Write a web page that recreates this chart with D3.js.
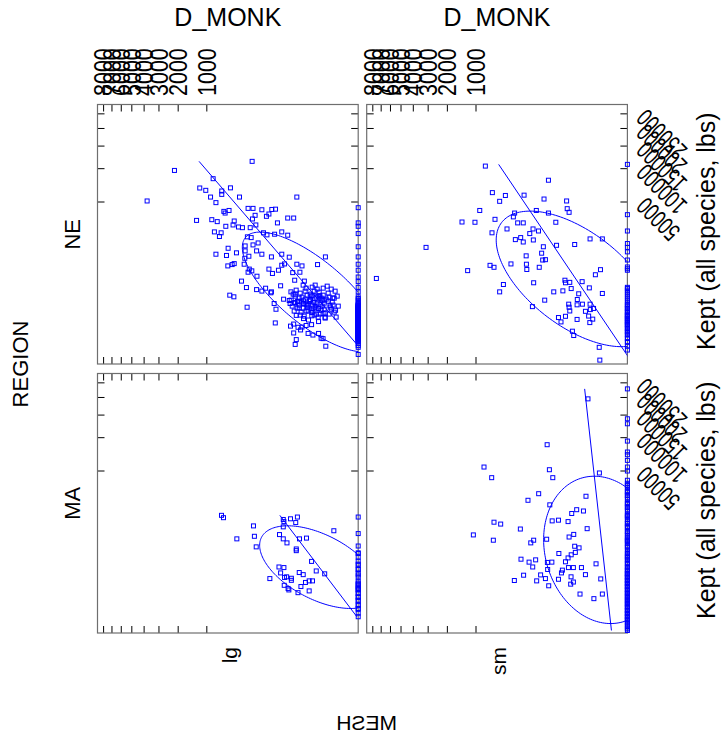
<!DOCTYPE html>
<html>
<head>
<meta charset="utf-8">
<script src="https://cdn.jsdelivr.net/npm/d3@7"></script>
<style>
  body { margin: 0; background: #fff; }
  svg text { font-family: "Liberation Sans", Arial, Helvetica, sans-serif; fill: #000; }
</style>
</head>
<body>
<svg id="chart" width="722" height="744"></svg>
<script>
// Conditioning levels
const regions = ["NE", "MA"];
const meshes = ["lg", "sm"];

// Axis ticks
const monkTicks = [1000, 2000, 3000, 4000, 5000, 6000, 7000, 8000];
const keptTicks = [50000, 100000, 150000, 200000, 250000];

// NE / lg : trips landing monkfish (D_MONK) and total kept
const neLgMonk = [3780,2170,241,843,1200,1028,660,660,507,905,780,378,27,1300,875,752,620,530,597,450,585,467,391,342,814,672,706,280,233,164,106,89,215,135,121,47,33,238,209,259,81,153,132,93,65,47,287,250,311,233,191,780,545,573,418,311,272,315,203,164,108,65,43,2.2,550,481,450,322,268,244,280,200,121,103,77,65,56,27,19,5.2,35,22,31,16,353,297,203,164,140,108,69,39,30,518,455,290,111,95,87,59,43,41,31,26,23,17,10,8,6.7,4.1,2.6,1.2,0.8,0.5,14,8.8,5.9,4.7,2.9,2.3,28,17,11.6,8.8,4.7,90,40,33,25,19,14,9,33,28,30,21,12,8,4.7,3.6,2.9,2.1,17,13,
  0.45,1.01,2.26,3.98,7.15,12.9,20.2,30.1,0.63,1.55,3.2,5.39,9.3,15.1,23.1,34.1,0.3,0.87,1.76,3.57,6.52,11.0,17.5,26.4,38.5,0.54,1.35,2.86,4.89,8.54,14.0,21.6,32,0.75,2.0,4.42,7.8,11.9,18.8,28.2,
  0.37,1.17,2.55,5.94,10.1,16.2,24.7,36.2,1.01,2.26,4.42,7.15,11.9,20.2,30.1,0.63,1.55,3.2,5.94,9.3,15.1,23.1,3.98,7.8,12.9,2.86,5.39,10.1,17.5,1.35,6.52,3.57,14.0,8.54,4.89,2.55,21.6];
const neLgKept = [51200,96700,114600,82300,68000,64700,63800,59300,68200,55900,49300,55900,55900,32000,32600,31000,40100,41000,38500,31500,27400,28400,26900,26400,23500,22900,20600,43100,43100,41700,42000,42300,36400,35500,37600,34000,34000,33200,28400,26400,30000,22900,21600,22000,23500,21400,20400,19950,15500,16000,17000,11840,14400,11350,12400,13220,11050,10300,13220,11840,10800,11840,10700,10800,7800,8200,8500,8310,6900,6440,6100,5170,6900,5800,6600,8000,8400,8310,7800,8200,6000,6100,4350,4180,4180,3100,2800,2600,3000,2500,3370,2500,2220,2100,1920,1030,2380,1300,900,1680,1560,1300,1380,1460,990,1530,1650,2100,1380,2040,1590,1140,1800,840,800,720,630,950,670,500,580,450,400,560,350,310,230,280,205,210,245,265,110,45,20,155,104,85,104,55,52,14,1300,1180,
  508,910,687,1250,593,1037,738,1330,1785,2340,1593,2870,1995,2590,1785,2220,1106,1416,3315,850,1037,1500,3480,971,1593,2590,640,2100,508,3160,1250,2340,793,1180,1690,2464,1416,793,1890,2727,
  1995,1037,1330,910,2220,549,1500,1106,2870,469,1785,2590,1180,1416,1995,738,1500,1106,1890,850,1690,1180,640,971,2100,3010,1330,1593,971,1890,3480,1785,3010,1180,1995,910,593];
// NE / lg : trips with no monkfish (D_MONK = 0)
const neLgZeroKept = [43800,30000,27400,22400,15100,10800,8310,6600,5000,4080,3130,2500,1920,1750,1600,1450,1300,1180,1070,950,840,760,670,600,520,460,400,350,295,250,210,180,155,130,104,85,67,55,40,32,24,16,11,1.4,
  42,49,57,65,75,85,96,109,122,137,153,171,189,209,231,254,280,306,335,365,397,432,469,508,549,593,640,687,738,793,850,910,971,1037,1106,1180,
  44,51,59,67,77,88,99,112,125,140,157,175,193,213,236,259,285,312,341,371,404,440,477,516,558,602,650,697,749,804,862,922,984,1050,1120,1195,
  280,306,335,365,397,432,469,508];

// NE / sm
const neSmMonk = [775,74,633,422,507,217,92,26,25,22,905,1425,1028,585,308,322,131,74,276,224,50,640,400,151,119,173,300,247,224,149,48,14.7,3.7,0.75,95,103,86,98,200,3130,678,603,350,198,195,115,1240,7560,450,507,147,56,33,29,28,21,19,8,4,2,1,0.75,10.7,12,89,155,22.6,22,21,12.2,7.8,3.7,5.9,3.6,2.5,43,37,28,12.2,4.3,3.8,2.75,17.4,15.8,1.2,1.1];
const neSmKept = [105000,79800,61600,57900,50800,58300,53500,51200,42800,39200,41000,30700,30500,32900,38500,35000,41000,38500,30000,30000,30500,22900,25500,25500,24100,22400,18800,19950,17500,18600,15800,16200,19200,19200,15100,12250,9800,9680,11200,14800,7970,7400,8400,8310,6800,7400,6500,4700,3580,2500,3880,2500,2630,4350,3880,3950,2950,4080,3050,5500,6750,2300,2260,1650,1590,1070,1250,1030,800,1200,1250,1250,780,880,950,490,340,540,420,550,320,430,135,80,11,0.05];
const neSmZeroKept = [108400,37000,24100,16700,14800,12800,9680,7500,7000,6600,3130,2950,1180,950,750,590,460,340,255,180,125,85,55,31,
  5.7,14.5,30.5,56.6,96,122,153,189,231,280,335,397,469,549,640,738,850,971,1106,1250,1416,1593,1785,1995,2220,2464,2727,397,280,549];

// MA / lg
const maLgMonk = [665,627,413,229,221,206,60,58,40,26,29,60,73,60,49,22.6,13.6,28,28,0.67,9,75,58,69,56,50,38,38,23,17.4,5.9,2.4,116,57,46,44,20.5,14.7,11,8.3,11,25];
const maLgKept = [15300,14200,6700,10800,7400,4820,13400,12500,13700,14500,12100,10450,7900,6700,5700,6700,6900,4400,4080,9100,2430,1800,1740,1270,950,990,900,780,1300,1140,1430,1200,880,540,420,370,490,670,750,750,340,290];
const maLgZeroKept = [14500,8200,5000,3700,3580,2100,1560,1120,590,420,370,270,190,135,75,45,10,
  21,42,75,122,189,280,397,469,549,640,738,971,1250,1593,1995,2464,3010];

// MA / sm
const maSmMonk = [4.6,1.17,79,805,646,70.5,59,118,186,69,5.6,18.3,12.6,7.1,61,43,23.6,603,491,1072,615,250,147,166,81,22,15.8,5,14.7,10.4,14,19,23.6,42,28,244,135,178,153,78,62,77,34,36,16.2,23,8.5,1.84,5.9,221,311,129,108,86,43,19.2,16.2,19.7,73,0.96,9.6,2.4,0.75];
const maSmKept = [195700,47800,87300,54700,42800,51500,42800,28600,23900,21000,26700,16200,18200,17500,12800,13100,12500,12250,11500,7800,6350,9680,6350,5700,6600,7200,7950,9800,4950,4620,3770,3370,2900,3580,2380,2720,2630,2340,1800,2300,2340,1560,1500,1270,1740,1740,1740,2140,1140,1100,770,750,1120,880,840,990,690,590,520,860,255,160,255];
const maSmZeroKept = [228400,140800,129000,93700,75400,71300,63300,54700,50000,40200,35600,30000,27400,21800,19800,15300,14500,11700,10450,8800,7200,6350,6000,4820,3580,3050,2600,2170,1800,1500,1230,990,780,620,490,370,270,190,135,92,60,34,20,10,4.6,
  0.01,0.055,0.13,0.44,0.72,1.6,2.3,4.3,5.7,9.4,11.7,17.7,21,30.5,36,49,56.6,75,85,109,122,153,171,209,231,280,306,365,397,469,508,593,640,738,793,910,971,1106,1180,1250,
  1416,1593,1785,2100,2340,2727,3010,3315,3810,4170,4760,5180,5630,6360,6880,7720,8310,8950,9970,10690,11840,12650,13510,14880,15850,17380,18450,19580,21350,22610,24590,25980,27420,29700,31290,33790,35540,37350];

const panelData = {
  "NE|lg": { monk: neLgMonk, kept: neLgKept, zero: neLgZeroKept },
  "NE|sm": { monk: neSmMonk, kept: neSmKept, zero: neSmZeroKept },
  "MA|lg": { monk: maLgMonk, kept: maLgKept, zero: maLgZeroKept },
  "MA|sm": { monk: maSmMonk, kept: maSmKept, zero: maSmZeroKept }
};

// Layout
const colX = [97.5, 366.7];
const rowY = [104.5, 373.5];
const pw = 260.7, ph = 259.5;
const monkMax = 8795, keptMax = 286400;
const blue = "#0000ff";
const ellipseLevel = Math.sqrt(-2 * Math.log(1 - 0.68)); // 68% normal contour

const svg = d3.select("#chart");
const defs = svg.append("defs");

function scalesFor(ci, ri) {
  const x = d3.scalePow().exponent(0.25).domain([0, monkMax]).range([colX[ci] + pw, colX[ci]]);
  const y = d3.scalePow().exponent(0.27).domain([0, keptMax]).range([rowY[ri] + ph, rowY[ri]]);
  return { x, y };
}

regions.forEach((region, ri) => {
  meshes.forEach((mesh, ci) => {
    const { x, y } = scalesFor(ci, ri);
    const d = panelData[region + "|" + mesh];
    const pts = d.monk.map((m, i) => ({ monk: m, kept: d.kept[i] }))
      .concat(d.zero.map(k => ({ monk: 0, kept: k })));

    const g = svg.append("g");
    const clipId = "clip-" + region + "-" + mesh;
    defs.append("clipPath").attr("id", clipId)
      .append("rect").attr("x", colX[ci]).attr("y", rowY[ri]).attr("width", pw).attr("height", ph);

    // Ticks drawn inward on every side of the panel
    const tk = 7;
    const tg = g.append("g").attr("stroke", "#000").attr("stroke-width", 1);
    monkTicks.forEach(t => {
      const px = x(t);
      tg.append("line").attr("x1", px).attr("x2", px).attr("y1", rowY[ri]).attr("y2", rowY[ri] + tk);
      tg.append("line").attr("x1", px).attr("x2", px).attr("y1", rowY[ri] + ph).attr("y2", rowY[ri] + ph - tk);
    });
    keptTicks.forEach(t => {
      const py = y(t);
      tg.append("line").attr("x1", colX[ci]).attr("x2", colX[ci] + tk).attr("y1", py).attr("y2", py);
      tg.append("line").attr("x1", colX[ci] + pw).attr("x2", colX[ci] + pw - tk).attr("y1", py).attr("y2", py);
    });

    // Panel frame
    g.append("rect").attr("x", colX[ci]).attr("y", rowY[ri]).attr("width", pw).attr("height", ph)
      .attr("fill", "none").attr("stroke", "#6e6e6e").attr("stroke-width", 1.2);

    // Moments in the transformed (screen) space
    const px = pts.map(p => x(p.monk)), py = pts.map(p => y(p.kept));
    const mx = d3.mean(px), my = d3.mean(py);
    const n = pts.length;
    let sxx = 0, syy = 0, sxy = 0;
    for (let i = 0; i < n; i++) {
      sxx += (px[i] - mx) ** 2; syy += (py[i] - my) ** 2; sxy += (px[i] - mx) * (py[i] - my);
    }
    sxx /= (n - 1); syy /= (n - 1); sxy /= (n - 1);

    // Least-squares line of D_MONK on Kept, over the Kept range
    const b = sxy / syy, a = mx - b * my;
    const [kLo, kHi] = d3.extent(pts, p => p.kept);
    const yTop = y(kHi), yBot = y(kLo);
    g.append("line").attr("clip-path", `url(#${clipId})`)
      .attr("x1", a + b * yTop).attr("y1", yTop).attr("x2", a + b * yBot).attr("y2", yBot)
      .attr("stroke", blue).attr("stroke-width", 1);

    // Data ellipse
    const T = (sxx + syy) / 2, D = Math.sqrt(((sxx - syy) / 2) ** 2 + sxy ** 2);
    const l1 = T + D, l2 = Math.max(T - D, 0);
    const ang = 0.5 * Math.atan2(2 * sxy, sxx - syy);
    const r1 = ellipseLevel * Math.sqrt(l1), r2 = ellipseLevel * Math.sqrt(l2);
    const ell = d3.range(0, 2 * Math.PI, Math.PI / 90).map(t => [
      mx + r1 * Math.cos(t) * Math.cos(ang) - r2 * Math.sin(t) * Math.sin(ang),
      my + r1 * Math.cos(t) * Math.sin(ang) + r2 * Math.sin(t) * Math.cos(ang)
    ]);
    g.append("path").attr("clip-path", `url(#${clipId})`)
      .attr("d", d3.line().curve(d3.curveLinearClosed)(ell))
      .attr("fill", "none").attr("stroke", blue).attr("stroke-width", 1);

    // Points: open squares
    const s = 4;
    g.append("g").selectAll("rect").data(pts).join("rect")
      .attr("x", p => x(p.monk) - s / 2).attr("y", p => y(p.kept) - s / 2)
      .attr("width", s).attr("height", s)
      .attr("fill", "none").attr("stroke", blue).attr("stroke-width", 1);

    // Top axis: D_MONK
    if (ri === 0) {
      const cx = colX[ci] + pw / 2;
      svg.append("text").attr("x", cx).attr("y", 26).attr("text-anchor", "middle")
        .style("font-size", "25px").text("D_MONK");
      monkTicks.forEach(t => {
        svg.append("g").attr("transform", `translate(${x(t)},96) rotate(-90) scale(0.86,1)`)
          .append("text").attr("text-anchor", "start").attr("dy", "0.35em")
          .style("font-size", "25px").text(d3.format("d")(t));
      });
    }

    // Bottom labels: MESH levels
    if (ri === 1) {
      const cx = colX[ci] + pw / 2;
      svg.append("text").attr("transform", `translate(${cx + 9},647) rotate(-90)`)
        .attr("text-anchor", "end").style("font-size", "21px").text(mesh);
    }

    // Left strip: REGION levels
    if (ci === 0) {
      svg.append("text").attr("transform", `translate(80,${rowY[ri] + ph / 2}) rotate(-90)`)
        .attr("text-anchor", "middle").style("font-size", "22px").text(region);
    }

    // Right axis: Kept
    if (ci === 1) {
      keptTicks.forEach(t => {
        svg.append("g").attr("transform", `translate(641,${y(t)}) rotate(-135) scale(0.7,1)`)
          .append("text").attr("text-anchor", "end").attr("dy", "0.35em")
          .style("font-size", "25px").text(d3.format("d")(t));
      });
      svg.append("text").attr("transform", `translate(715,${rowY[ri] + ph / 2 - 3}) rotate(-90)`)
        .attr("text-anchor", "middle").style("font-size", "25px").text("Kept (all species, lbs)");
    }
  });
});

// Outer titles
svg.append("text").attr("transform", "translate(28,364) rotate(-90)")
  .attr("text-anchor", "middle").style("font-size", "22px").text("REGION");
svg.append("text").attr("transform", "translate(366.7,730) scale(-1,1)")
  .attr("text-anchor", "middle").style("font-size", "21px").text("MESH");
</script>
</body>
</html>
